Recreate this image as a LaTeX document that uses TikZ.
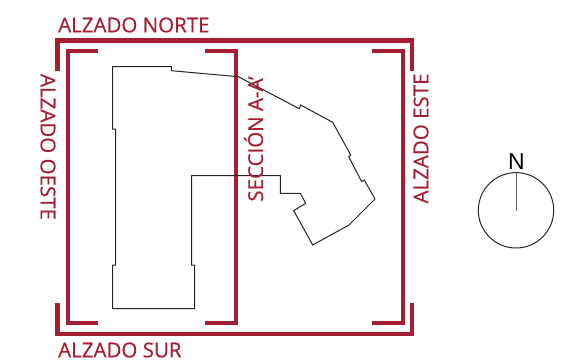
\documentclass[tikz,border=0pt]{standalone}
\usepackage{fontspec}
\setmainfont[FakeBold=0.5]{Open Sans}
\newfontfamily\nfont{Liberation Sans}
\definecolor{wine}{HTML}{A51E32}
\tikzset{
  bracket/.style={draw=wine,line width=4.2pt,line cap=butt,line join=miter},
  outline/.style={draw=black!85,line width=1pt,line join=miter},
  lab/.style={text=wine,inner sep=0pt,font=\fontsize{20.5}{20.5}\selectfont}
}
\begin{document}
\begin{tikzpicture}[x=1pt,y=-1pt]
\useasboundingbox (0,0) rectangle (580,361);
% outer frame
\draw[bracket] (57.5,71) -- (57.5,40.5) -- (412,40.5) -- (412,71);
\draw[bracket] (57.5,303) -- (57.5,334) -- (412,334) -- (412,303);
% inner brackets
\draw[bracket] (98,50.7) -- (67.7,50.7) -- (67.7,323) -- (98,323);
\draw[bracket] (205,50.7) -- (235.7,50.7) -- (235.7,323) -- (205,323);
\draw[bracket] (371.7,50.7) -- (402.7,50.7) -- (402.7,323) -- (371.7,323);
% building
\draw[outline] (112.7,66.7) -- (171.3,66.7) -- (171.3,70.7) -- (238.3,76.7) -- (299.3,108.7) -- (300.7,105) -- (332.7,122.3) -- (350.7,155) -- (348.7,156.7) -- (361.7,181.7) -- (364.3,180) -- (375,199) -- (349,225) -- (312.7,245) -- (293.7,210.7) -- (305.7,203.3) -- (300.3,193.3) -- (280.3,193.3) -- (280.3,175.7) -- (191.7,175.7) -- (191.7,265) -- (194.7,265) -- (194.7,308.7) -- (112.7,308.7) -- (112.7,265) -- (115.7,265) -- (115.7,129) -- (112.7,129) -- cycle;
% labels
\node[lab,anchor=west] (norte) at (58,25) {ALZADO NORTE};
\node[lab,anchor=west] (sur) at (58,350) {ALZADO SUR};
\node[lab,rotate=-90] (oeste) at (48,147) {ALZADO OESTE};
\node[lab,rotate=90] (seccion) at (253.5,139) {SECCIÓN A-A'};
\node[lab,rotate=90] (este) at (421,138.5) {ALZADO ESTE};
% north sign
\node[draw=black!85,line width=1pt,circle,minimum size=75.4pt,inner sep=0pt] (disc) at (516,210.3) {};
\coordinate (mid) at (516,211);
\draw[draw=black!60,line width=1pt] (disc.north) -- (mid);
\node[inner sep=0pt,font=\nfont\fontsize{23}{23}\selectfont] (n) at (516.5,162) {N};
\end{tikzpicture}
\end{document}
